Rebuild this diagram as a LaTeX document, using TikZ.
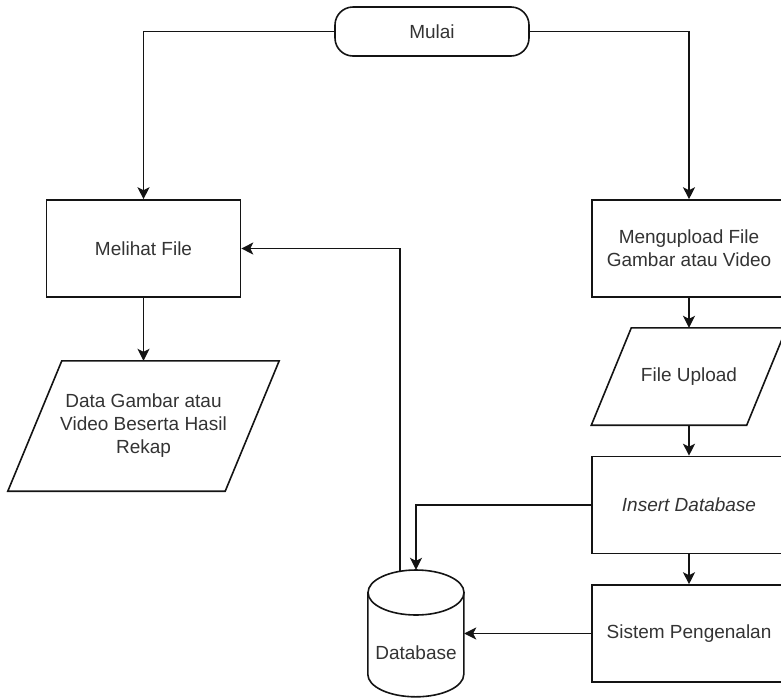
\documentclass[tikz,border=0pt]{standalone}
\usepackage{fontspec}
\setmainfont{Liberation Sans}
\usetikzlibrary{arrows.meta}
\definecolor{ink}{HTML}{141414}
\definecolor{txt}{HTML}{333333}
\tikzset{
  every node/.style={font=\fontsize{19}{23}\selectfont, text=txt},
  outline/.style={draw=ink, line width=1.6pt},
  stepbox/.style={outline, rectangle, minimum width=194pt, minimum height=97pt, align=center, inner sep=0pt},
  terminal/.style={outline, rectangle, rounded corners=18pt, minimum width=194pt, minimum height=49pt, inner sep=0pt},
  textarea/.style={rectangle, inner sep=0pt, align=center},
  flow/.style={draw=ink, line width=1.6pt, -{Stealth[length=12pt, width=12pt, inset=3pt]}},
  plain/.style={draw=ink, line width=1.6pt}
}
\begin{document}
\begin{tikzpicture}[x=1pt, y=-1pt]
\useasboundingbox (0,0) rectangle (781,697);

% start terminal
\node[terminal] (mulai) at (432,31.5) {Mulai};

% process boxes
\node[stepbox] (melihat) at (143.5,248.5) {Melihat File};
\node[stepbox] (upload) at (689,248.5) {Mengupload File\\Gambar atau Video};
\node[stepbox] (insert) at (689,505) {\itshape Insert Database};
\node[stepbox] (sistem) at (689,633.5) {Sistem Pengenalan};

% data (parallelogram) shapes: text areas plus slanted outlines
\node[textarea, minimum width=217pt, minimum height=130pt] (data) at (143.5,426)
  {Data Gambar atau\\Video Beserta Hasil\\Rekap};
\draw[outline] ([xshift=-27pt]data.south west) -- ([xshift=27pt]data.north west)
  -- ([xshift=27pt]data.north east) -- ([xshift=-27pt]data.south east) -- cycle;

\node[textarea, minimum width=155pt, minimum height=97pt] (fu) at (689,376.5) {File Upload};
\draw[outline] ([xshift=-20pt]fu.south west) -- ([xshift=20pt]fu.north west)
  -- ([xshift=20pt]fu.north east) -- ([xshift=-20pt]fu.south east) -- cycle;

% database cylinder
\node[textarea, minimum width=96pt, minimum height=127pt] (db) at (416,633.5) {};
\node at (416,653) {Database};
\draw[outline] (db.north west) ++(0,22.5) -- ++(0,82)
  arc[start angle=180, end angle=360, x radius=48pt, y radius=22.5pt] -- ++(0,-82);
\draw[outline] (416,592.5) ellipse [x radius=48pt, y radius=22.5pt];

% connectors
\draw[flow] (mulai.west) -| (melihat.north);
\draw[flow] (mulai.east) -| (upload.north);
\draw[flow] (melihat.south) -- (data.north);
\draw[flow] (upload.south) -- (fu.north);
\draw[flow] (fu.south) -- (insert.north);
\draw[flow] (insert.south) -- (sistem.north);
\draw[flow] (insert.west) -| (db.north);
\draw[flow] (sistem.west) -- (sistem.west -| db.east);
\draw[flow] ([xshift=-16pt, yshift=-1pt]db.north) |- (melihat.east);
\end{tikzpicture}
\end{document}
